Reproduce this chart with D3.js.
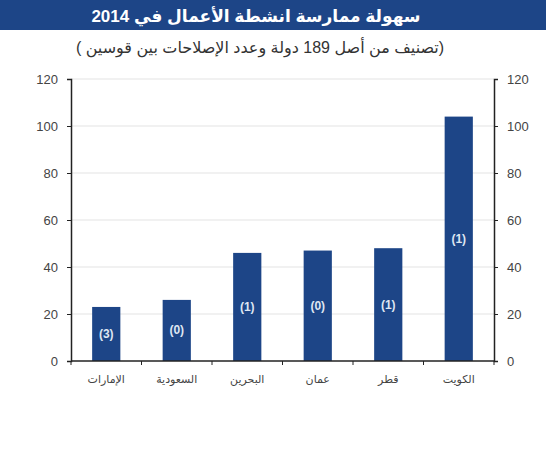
<!DOCTYPE html>
<html>
<head>
<meta charset="utf-8">
<script src="https://cdn.jsdelivr.net/npm/d3@7"></script>
<style>
  body { margin: 0; background: #fff; }
  svg { display: block; font-family: "Liberation Sans", Arial, "DejaVu Sans", sans-serif; }
</style>
</head>
<body>
<script>
// data
const countries = ["الإمارات", "السعودية", "البحرين", "عمان", "قطر", "الكويت"];
const ranks = [23, 26, 46, 47, 48, 104];
const reforms = ["(3)", "(0)", "(1)", "(0)", "(1)", "(1)"];
const yTicks = [0, 20, 40, 60, 80, 100, 120];

const w = 546, h = 450;
const plotLeft = 71, plotRight = 494, plotTop = 79, plotBottom = 361;
const blue = "#1d4587";

const svg = d3.select("body").append("svg")
  .attr("width", w)
  .attr("height", h);

// title band
svg.append("rect")
  .attr("x", 0).attr("y", 0)
  .attr("width", w).attr("height", 30)
  .attr("fill", blue);

svg.append("text")
  .attr("x", 256).attr("y", 22)
  .attr("text-anchor", "middle")
  .attr("direction", "rtl")
  .attr("fill", "#fff")
  .attr("font-size", 17)
  .attr("font-weight", "bold")
  .text("سهولة ممارسة انشطة الأعمال في 2014");

svg.append("text")
  .attr("x", 260).attr("y", 53)
  .attr("text-anchor", "middle")
  .attr("direction", "rtl")
  .attr("fill", "#333")
  .attr("font-size", 16)
  .text("(تصنيف من أصل 189 دولة وعدد الإصلاحات بين قوسين )");

const x = d3.scaleBand()
  .domain(countries)
  .range([plotLeft, plotRight])
  .paddingInner(0.6)
  .paddingOuter(0.3);

const y = d3.scaleLinear()
  .domain([0, 120])
  .range([plotBottom, plotTop]);

// gridlines
svg.append("g")
  .selectAll("line")
  .data(yTicks.filter(d => d > 0))
  .join("line")
  .attr("x1", plotLeft).attr("x2", plotRight)
  .attr("y1", d => y(d)).attr("y2", d => y(d))
  .attr("stroke", "#e3e3e3")
  .attr("stroke-width", 1);

// bars
svg.append("g")
  .selectAll("rect")
  .data(countries)
  .join("rect")
  .attr("x", d => x(d))
  .attr("width", x.bandwidth())
  .attr("y", (d, i) => y(ranks[i]))
  .attr("height", (d, i) => y(0) - y(ranks[i]))
  .attr("fill", blue);

// labels inside bars
svg.append("g")
  .selectAll("text")
  .data(countries)
  .join("text")
  .attr("x", d => x(d) + x.bandwidth() / 2)
  .attr("y", (d, i) => (y(ranks[i]) + y(0)) / 2 + 4)
  .attr("text-anchor", "middle")
  .attr("fill", "#dfe6f2")
  .attr("font-size", 12)
  .attr("font-weight", "bold")
  .text((d, i) => reforms[i]);

const leftAxis = svg.append("g")
  .attr("transform", "translate(" + plotLeft + ",0)")
  .call(d3.axisLeft(y).tickValues(yTicks).tickSize(4).tickPadding(9));

const rightAxis = svg.append("g")
  .attr("transform", "translate(" + plotRight + ",0)")
  .call(d3.axisRight(y).tickValues(yTicks).tickSize(4).tickPadding(9));

[leftAxis, rightAxis].forEach(a => {
  a.select(".domain").attr("stroke", "#222").attr("stroke-width", 1.5);
  a.selectAll(".tick line").attr("stroke", "#222");
  a.selectAll(".tick text")
    .attr("fill", "#444")
    .attr("font-size", 13)
    .attr("font-family", "Liberation Sans, Arial, sans-serif");
});

// x axis: baseline with ticks at band edges
const xAxis = svg.append("g")
  .attr("transform", "translate(0," + plotBottom + ")");

xAxis.append("line")
  .attr("x1", plotLeft).attr("x2", plotRight)
  .attr("stroke", "#222").attr("stroke-width", 1.5);

const edges = countries.map(d => x(d) - x.step() * x.paddingInner() / 2).concat([plotRight]);
xAxis.selectAll(".edge")
  .data(edges)
  .join("line")
  .attr("class", "edge")
  .attr("x1", d => d).attr("x2", d => d)
  .attr("y1", 0).attr("y2", 4)
  .attr("stroke", "#222");

xAxis.selectAll(".cat")
  .data(countries)
  .join("text")
  .attr("class", "cat")
  .attr("x", d => x(d) + x.bandwidth() / 2)
  .attr("y", 22)
  .attr("text-anchor", "middle")
  .attr("direction", "rtl")
  .attr("fill", "#444")
  .attr("font-size", 11)
  .text(d => d);
</script>
</body>
</html>
